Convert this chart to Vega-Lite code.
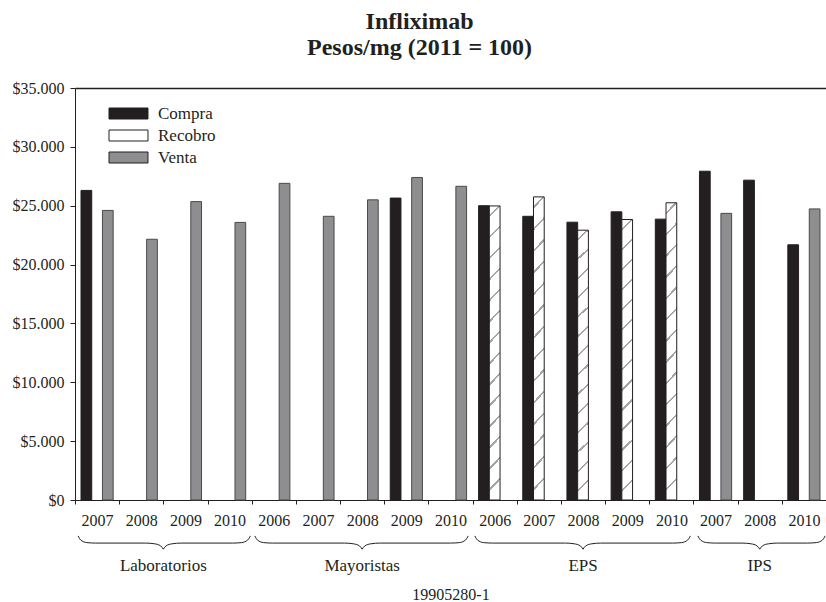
{
  "$schema": "https://vega.github.io/schema/vega-lite/v6.json",
  "width": 751,
  "height": 412,
  "autosize": {"type": "none"},
  "padding": {"left": 75, "top": 88, "right": 0, "bottom": 102},
  "background": "white",
  "config": {
    "view": {"stroke": null},
    "locale": {"number": {"decimal": ",", "thousands": ".", "grouping": [3], "currency": ["$", ""]}},
    "font": "Liberation Serif"
  },
  "title": {
    "text": ["Infliximab", "Pesos/mg (2011 = 100)"],
    "font": "Liberation Serif",
    "fontSize": 24,
    "fontWeight": "bold",
    "color": "#231f20",
    "anchor": "middle",
    "frame": "bounds",
    "lineHeight": 26.5,
    "baseline": "alphabetic",
    "offset": 1
  },
  "datasets": {
    "bars": [
      {"slot": "Laboratorios 2007", "serie": "Compra", "valor": 26300},
      {"slot": "Laboratorios 2007", "serie": "Venta", "valor": 24600},
      {"slot": "Laboratorios 2008", "serie": "Venta", "valor": 22150},
      {"slot": "Laboratorios 2009", "serie": "Venta", "valor": 25350},
      {"slot": "Laboratorios 2010", "serie": "Venta", "valor": 23580},
      {"slot": "Mayoristas 2006", "serie": "Venta", "valor": 26900},
      {"slot": "Mayoristas 2007", "serie": "Venta", "valor": 24100},
      {"slot": "Mayoristas 2008", "serie": "Venta", "valor": 25500},
      {"slot": "Mayoristas 2009", "serie": "Compra", "valor": 25650},
      {"slot": "Mayoristas 2009", "serie": "Venta", "valor": 27400},
      {"slot": "Mayoristas 2010", "serie": "Venta", "valor": 26650},
      {"slot": "EPS 2006", "serie": "Compra", "valor": 25000},
      {"slot": "EPS 2006", "serie": "Recobro", "valor": 24980},
      {"slot": "EPS 2007", "serie": "Compra", "valor": 24100},
      {"slot": "EPS 2007", "serie": "Recobro", "valor": 25750},
      {"slot": "EPS 2008", "serie": "Compra", "valor": 23600},
      {"slot": "EPS 2008", "serie": "Recobro", "valor": 22920},
      {"slot": "EPS 2009", "serie": "Compra", "valor": 24480},
      {"slot": "EPS 2009", "serie": "Recobro", "valor": 23830},
      {"slot": "EPS 2010", "serie": "Compra", "valor": 23860},
      {"slot": "EPS 2010", "serie": "Recobro", "valor": 25250},
      {"slot": "IPS 2007", "serie": "Compra", "valor": 27930},
      {"slot": "IPS 2007", "serie": "Venta", "valor": 24350},
      {"slot": "IPS 2008", "serie": "Compra", "valor": 27170},
      {"slot": "IPS 2010", "serie": "Compra", "valor": 21680},
      {"slot": "IPS 2010", "serie": "Venta", "valor": 24730}
    ],
    "braces": [
      {"h": "LabL", "p": 0.07, "valor": -3050}, {"h": "LabL", "p": 0.13, "valor": -3400}, {"h": "LabL", "p": 0.27, "valor": -3620}, {"h": "LabL", "p": 0.47, "valor": -3660},
      {"h": "LabL", "p": 1.6, "valor": -3660}, {"h": "LabL", "p": 1.8, "valor": -3720}, {"h": "LabL", "p": 1.94, "valor": -3900}, {"h": "LabL", "p": 2.0, "valor": -4180},
      {"h": "LabR", "p": 2.0, "valor": -4180}, {"h": "LabR", "p": 2.06, "valor": -3900}, {"h": "LabR", "p": 2.2, "valor": -3720}, {"h": "LabR", "p": 2.4, "valor": -3660},
      {"h": "LabR", "p": 3.57, "valor": -3660}, {"h": "LabR", "p": 3.77, "valor": -3620}, {"h": "LabR", "p": 3.91, "valor": -3400}, {"h": "LabR", "p": 3.97, "valor": -3050},
      {"h": "MayL", "p": 4.07, "valor": -3050}, {"h": "MayL", "p": 4.13, "valor": -3400}, {"h": "MayL", "p": 4.27, "valor": -3620}, {"h": "MayL", "p": 4.47, "valor": -3660},
      {"h": "MayL", "p": 6.1, "valor": -3660}, {"h": "MayL", "p": 6.3, "valor": -3720}, {"h": "MayL", "p": 6.44, "valor": -3900}, {"h": "MayL", "p": 6.5, "valor": -4180},
      {"h": "MayR", "p": 6.5, "valor": -4180}, {"h": "MayR", "p": 6.56, "valor": -3900}, {"h": "MayR", "p": 6.7, "valor": -3720}, {"h": "MayR", "p": 6.9, "valor": -3660},
      {"h": "MayR", "p": 8.5, "valor": -3660}, {"h": "MayR", "p": 8.7, "valor": -3620}, {"h": "MayR", "p": 8.84, "valor": -3400}, {"h": "MayR", "p": 8.9, "valor": -3050},
      {"h": "EPSL", "p": 9.05, "valor": -3050}, {"h": "EPSL", "p": 9.11, "valor": -3400}, {"h": "EPSL", "p": 9.25, "valor": -3620}, {"h": "EPSL", "p": 9.45, "valor": -3660},
      {"h": "EPSL", "p": 11.1, "valor": -3660}, {"h": "EPSL", "p": 11.3, "valor": -3720}, {"h": "EPSL", "p": 11.44, "valor": -3900}, {"h": "EPSL", "p": 11.5, "valor": -4180},
      {"h": "EPSR", "p": 11.5, "valor": -4180}, {"h": "EPSR", "p": 11.56, "valor": -3900}, {"h": "EPSR", "p": 11.7, "valor": -3720}, {"h": "EPSR", "p": 11.9, "valor": -3660},
      {"h": "EPSR", "p": 13.53, "valor": -3660}, {"h": "EPSR", "p": 13.73, "valor": -3620}, {"h": "EPSR", "p": 13.87, "valor": -3400}, {"h": "EPSR", "p": 13.93, "valor": -3050},
      {"h": "IPSL", "p": 14.1, "valor": -3050}, {"h": "IPSL", "p": 14.16, "valor": -3400}, {"h": "IPSL", "p": 14.3, "valor": -3620}, {"h": "IPSL", "p": 14.5, "valor": -3660},
      {"h": "IPSL", "p": 15.1, "valor": -3660}, {"h": "IPSL", "p": 15.3, "valor": -3720}, {"h": "IPSL", "p": 15.44, "valor": -3900}, {"h": "IPSL", "p": 15.5, "valor": -4180},
      {"h": "IPSR", "p": 15.5, "valor": -4180}, {"h": "IPSR", "p": 15.56, "valor": -3900}, {"h": "IPSR", "p": 15.7, "valor": -3720}, {"h": "IPSR", "p": 15.9, "valor": -3660},
      {"h": "IPSR", "p": 16.58, "valor": -3660}, {"h": "IPSR", "p": 16.78, "valor": -3620}, {"h": "IPSR", "p": 16.92, "valor": -3400}, {"h": "IPSR", "p": 16.98, "valor": -3050}
    ],
    "groups": [
      {"grupo": "Laboratorios", "p": 2.0},
      {"grupo": "Mayoristas", "p": 6.5},
      {"grupo": "EPS", "p": 11.5},
      {"grupo": "IPS", "p": 15.5}
    ]
  },
  "layer": [
    {
      "data": {"name": "bars"},
      "mark": {"type": "bar", "strokeWidth": 1},
      "encoding": {
        "x": {
          "field": "slot",
          "type": "nominal",
          "scale": {
            "domain": ["Laboratorios 2007", "Laboratorios 2008", "Laboratorios 2009", "Laboratorios 2010", "Mayoristas 2006", "Mayoristas 2007", "Mayoristas 2008", "Mayoristas 2009", "Mayoristas 2010", "EPS 2006", "EPS 2007", "EPS 2008", "EPS 2009", "EPS 2010", "IPS 2007", "IPS 2008", "IPS 2010"],
            "paddingInner": 0,
            "paddingOuter": 0
          },
          "axis": {
            "labelExpr": "split(datum.value, ' ')[1]",
            "labelAngle": 0,
            "tickBand": "extent",
            "tickSize": 4,
            "domainColor": "#231f20",
            "tickColor": "#231f20",
            "labelFont": "Liberation Serif",
            "labelFontSize": 16,
            "labelColor": "#231f20",
            "labelPadding": 8,
            "title": "19905280-1",
            "titleFont": "Liberation Serif",
            "titleFontSize": 16,
            "titleFontWeight": "normal",
            "titleColor": "#231f20",
            "titlePadding": 58
          }
        },
        "xOffset": {
          "field": "serie",
          "type": "nominal",
          "scale": {"domain": ["Compra", "Recobro", "Venta"], "paddingInner": 0, "paddingOuter": 0.56}
        },
        "y": {
          "field": "valor",
          "type": "quantitative",
          "scale": {"domain": [0, 35000], "nice": false},
          "axis": {
            "title": null,
            "values": [0, 5000, 10000, 15000, 20000, 25000, 30000, 35000],
            "format": "$,.0f",
            "domainColor": "#231f20",
            "tickColor": "#231f20",
            "tickSize": 5,
            "labelPadding": 6,
            "labelFont": "Liberation Serif",
            "labelFontSize": 16,
            "labelColor": "#231f20",
            "grid": true,
            "gridColor": "#231f20",
            "gridWidth": 1.5,
            "gridOpacity": {"condition": {"test": "datum.value === 35000", "value": 1}, "value": 0}
          }
        },
        "fill": {
          "condition": {
            "test": "datum.serie === 'Recobro'",
            "value": {
              "gradient": "linear", "x1": 0, "y1": 0, "x2": 0.038, "y2": 1,
              "stops": [
                {"offset": 0, "color": "#ffffff"},
                {"offset": 0.0317, "color": "#ffffff"}, {"offset": 0.0317, "color": "#a5a5a5"}, {"offset": 0.0397, "color": "#a5a5a5"}, {"offset": 0.0397, "color": "#ffffff"},
                {"offset": 0.1031, "color": "#ffffff"}, {"offset": 0.1031, "color": "#a5a5a5"}, {"offset": 0.1111, "color": "#a5a5a5"}, {"offset": 0.1111, "color": "#ffffff"},
                {"offset": 0.1746, "color": "#ffffff"}, {"offset": 0.1746, "color": "#a5a5a5"}, {"offset": 0.1826, "color": "#a5a5a5"}, {"offset": 0.1826, "color": "#ffffff"},
                {"offset": 0.246, "color": "#ffffff"}, {"offset": 0.246, "color": "#a5a5a5"}, {"offset": 0.254, "color": "#a5a5a5"}, {"offset": 0.254, "color": "#ffffff"},
                {"offset": 0.3174, "color": "#ffffff"}, {"offset": 0.3174, "color": "#a5a5a5"}, {"offset": 0.3254, "color": "#a5a5a5"}, {"offset": 0.3254, "color": "#ffffff"},
                {"offset": 0.3889, "color": "#ffffff"}, {"offset": 0.3889, "color": "#a5a5a5"}, {"offset": 0.3969, "color": "#a5a5a5"}, {"offset": 0.3969, "color": "#ffffff"},
                {"offset": 0.4603, "color": "#ffffff"}, {"offset": 0.4603, "color": "#a5a5a5"}, {"offset": 0.4683, "color": "#a5a5a5"}, {"offset": 0.4683, "color": "#ffffff"},
                {"offset": 0.5317, "color": "#ffffff"}, {"offset": 0.5317, "color": "#a5a5a5"}, {"offset": 0.5397, "color": "#a5a5a5"}, {"offset": 0.5397, "color": "#ffffff"},
                {"offset": 0.6031, "color": "#ffffff"}, {"offset": 0.6031, "color": "#a5a5a5"}, {"offset": 0.6111, "color": "#a5a5a5"}, {"offset": 0.6111, "color": "#ffffff"},
                {"offset": 0.6746, "color": "#ffffff"}, {"offset": 0.6746, "color": "#a5a5a5"}, {"offset": 0.6826, "color": "#a5a5a5"}, {"offset": 0.6826, "color": "#ffffff"},
                {"offset": 0.746, "color": "#ffffff"}, {"offset": 0.746, "color": "#a5a5a5"}, {"offset": 0.754, "color": "#a5a5a5"}, {"offset": 0.754, "color": "#ffffff"},
                {"offset": 0.8174, "color": "#ffffff"}, {"offset": 0.8174, "color": "#a5a5a5"}, {"offset": 0.8254, "color": "#a5a5a5"}, {"offset": 0.8254, "color": "#ffffff"},
                {"offset": 0.8889, "color": "#ffffff"}, {"offset": 0.8889, "color": "#a5a5a5"}, {"offset": 0.8969, "color": "#a5a5a5"}, {"offset": 0.8969, "color": "#ffffff"},
                {"offset": 0.9603, "color": "#ffffff"}, {"offset": 0.9603, "color": "#a5a5a5"}, {"offset": 0.9683, "color": "#a5a5a5"}, {"offset": 0.9683, "color": "#ffffff"},
                {"offset": 1, "color": "#ffffff"}
              ]
            }
          },
          "field": "serie",
          "type": "nominal",
          "scale": {"domain": ["Compra", "Recobro", "Venta"], "range": ["#231f20", "#ffffff", "#8e8e90"]},
          "legend": {
            "title": null,
            "orient": "none",
            "legendX": 45,
            "legendY": 17,
            "rowPadding": 4,
            "symbolType": "M-3.545,-1H3.545V1H-3.545Z",
            "symbolSize": 121,
            "symbolStrokeWidth": 1,
            "labelFont": "Liberation Serif",
            "labelFontSize": 17,
            "labelColor": "#231f20",
            "labelOffset": 21,
            "encode": {
              "symbols": {
                "fill": {
                  "condition": [
                    {"test": "datum.value === 'Recobro'", "value": {
                      "gradient": "linear", "x1": 0, "y1": 0, "x2": 1, "y2": 0.28,
                      "stops": [
                        {"offset": 0, "color": "#ffffff"},
                        {"offset": 0.3, "color": "#ffffff"}, {"offset": 0.3, "color": "#7a7a7a"}, {"offset": 0.36, "color": "#7a7a7a"}, {"offset": 0.36, "color": "#ffffff"},
                        {"offset": 0.72, "color": "#ffffff"}, {"offset": 0.72, "color": "#b0b0b0"}, {"offset": 0.78, "color": "#b0b0b0"}, {"offset": 0.78, "color": "#ffffff"},
                        {"offset": 1, "color": "#ffffff"}
                      ]
                    }},
                    {"test": "datum.value === 'Compra'", "value": "#231f20"}
                  ],
                  "value": "#8e8e90"
                },
                "stroke": {
                  "condition": {"test": "datum.value === 'Venta'", "value": "#4a4a4a"},
                  "value": "#231f20"
                }
              }
            }
          }
        },
        "stroke": {
          "condition": {"test": "datum.serie === 'Venta'", "value": "#4a4a4a"},
          "value": "#231f20"
        }
      }
    },
    {
      "data": {"name": "braces"},
      "mark": {"type": "line", "interpolate": "monotone", "stroke": "#231f20", "strokeWidth": 1},
      "encoding": {
        "x": {"field": "p", "type": "quantitative", "scale": {"domain": [0, 17], "nice": false, "zero": false}, "axis": null},
        "y": {"field": "valor", "type": "quantitative"},
        "detail": {"field": "h", "type": "nominal"}
      }
    },
    {
      "data": {"name": "groups"},
      "mark": {"type": "text", "font": "Liberation Serif", "fontSize": 17, "color": "#231f20", "baseline": "middle", "align": "center"},
      "encoding": {
        "x": {"field": "p", "type": "quantitative", "scale": {"domain": [0, 17], "nice": false, "zero": false}, "axis": null},
        "y": {"datum": -5600, "type": "quantitative"},
        "text": {"field": "grupo", "type": "nominal"}
      }
    }
  ],
  "resolve": {"scale": {"x": "independent"}, "axis": {"x": "independent"}}
}
